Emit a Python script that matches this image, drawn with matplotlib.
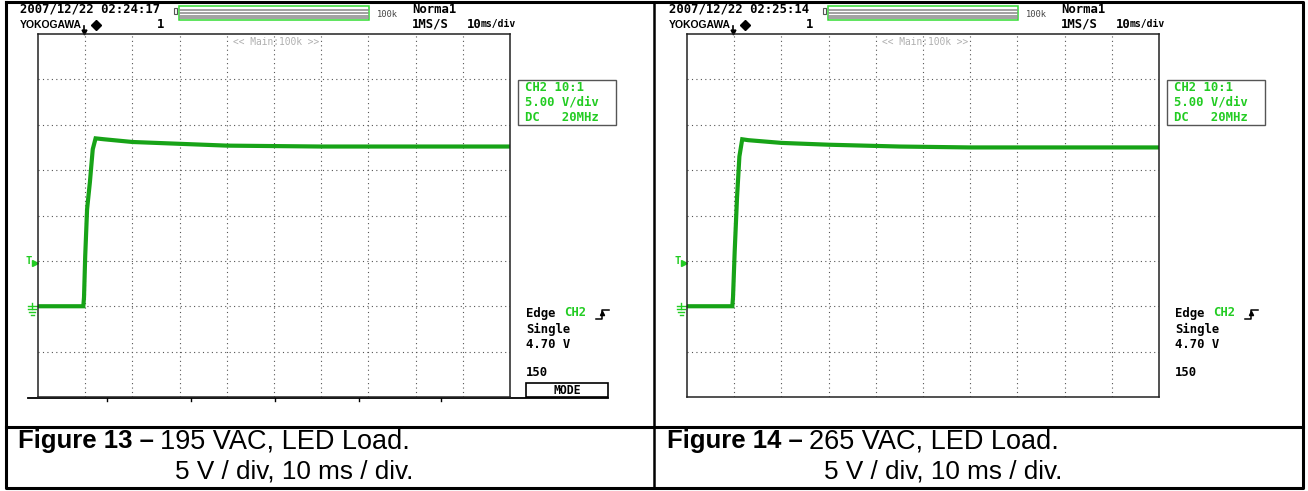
import numpy as np
import matplotlib
matplotlib.use("Agg")
import matplotlib.pyplot as plt
from matplotlib.patches import Rectangle

# CH2 output voltage at start-up (ms, V), 10 ms/div, 5 V/div
t_195 = [0, 9.6, 9.75, 10.0, 10.4, 11.0, 11.6, 12.2, 14, 20, 30, 40, 60, 80, 100]
v_195 = [0, 0, 1.0, 5.5, 10.7, 13.7, 17.3, 18.5, 18.4, 18.1, 17.9, 17.7, 17.6, 17.6, 17.6]
t_265 = [0, 9.6, 9.75, 10.1, 10.6, 11.1, 11.7, 13, 20, 30, 45, 60, 80, 100]
v_265 = [0, 0, 1.0, 6.0, 12.0, 16.5, 18.4, 18.3, 18.0, 17.8, 17.6, 17.5, 17.5, 17.5]

stamps = ["2007/12/22 02:24:17", "2007/12/22 02:25:14"]
fig_nums = ["Figure 13 \u2013", "Figure 14 \u2013"]
conditions = ["195 VAC, LED Load.", "265 VAC, LED Load."]
scale_text = "5 V / div, 10 ms / div."
ch_info = ["CH2 10:1", "5.00 V/div", "DC   20MHz"]
trig_level = "4.70 V"

TRACE = "#17a317"
GREEN = "#22cc22"
MONO = "DejaVu Sans Mono"
W, H = 1308, 491

fig = plt.figure(figsize=(W / 100, H / 100), dpi=100)
page = fig.add_axes([0, 0, 1, 1])
page.set_xlim(0, W)
page.set_ylim(H, 0)
page.axis("off")


def box_axes(left, top, right, bottom):
    return fig.add_axes([left / W, 1 - bottom / H, (right - left) / W, (bottom - top) / H])


def draw_scope(ax, t, v):
    ax.plot(t, v, color=TRACE, lw=3, solid_joinstyle="miter")
    ax.set_xlim(0, 100)
    ax.set_ylim(-10, 30)
    ax.set_xticks(np.arange(10, 100, 10))
    ax.set_yticks(np.arange(-5, 30, 5))
    ax.grid(True, ls=(0, (1, 3)), color="#555555", lw=0.8)
    ax.tick_params(length=0, labelbottom=False, labelleft=False)
    for s in ax.spines.values():
        s.set_color("#222222")
        s.set_linewidth(1.1)
    ax.patch.set_alpha(0)


def draw_panel(x0, t, v, stamp, fig_num, cond, show_mode):
    # x0 is left edge of the graticule
    ax = box_axes(x0, 34, x0 + 472, 397)
    draw_scope(ax, t, v)

    # header
    hx = x0 - 18
    page.text(hx, 9, stamp, family=MONO, weight="bold", size=8.8, va="center")
    page.text(hx, 25, "YOKOGAWA", family="Liberation Sans", weight="bold", size=7.5, va="center")
    page.plot([hx + 76], [25], marker="D", color="black", ms=5.5)
    page.text(hx + 137, 24, "1", family=MONO, weight="bold", size=8.8, va="center")
    page.plot([x0 + 46, x0 + 46], [26, 33], color="black", lw=1.2)
    page.plot([x0 + 46], [32], marker="v", color="black", ms=3.5)

    # record length bar
    page.add_patch(Rectangle((hx + 154, 8), 3, 6, fill=False, ec="#555555", lw=0.8))
    page.add_patch(Rectangle((hx + 159, 6), 190, 14, fill=False, ec="#33dd33", lw=1.1))
    for yy in (10, 13, 16, 18):
        page.plot([hx + 160, hx + 348], [yy, yy], color="#888888", lw=1.1)
    page.text(hx + 357, 14, "100k", family=MONO, size=6.3, color="#444444", va="center")
    page.text(hx + 392, 9, "Norma1", family=MONO, weight="bold", size=8.8, va="center")
    page.text(hx + 392, 24, "1MS/S", family=MONO, weight="bold", size=8.8, va="center")
    page.text(hx + 447, 24, "10", family=MONO, weight="bold", size=8.8, va="center")
    page.text(hx + 461, 24, "ms/div", family=MONO, weight="bold", size=7, va="center")
    page.text(x0 + 195, 42, "<< Main:100k >>", family=MONO, size=6.9, color="#b0b0b0", va="center")

    # channel settings box
    bx = x0 + 480
    page.add_patch(Rectangle((bx, 80), 98, 45, fill=False, ec="#555555", lw=1.0))
    for i, line in enumerate(ch_info):
        page.text(bx + 7, 87 + 15 * i, line, family=MONO, weight="bold", size=8.8,
                  color=GREEN, va="center")

    # trigger settings
    tx = x0 + 488
    page.text(tx, 313, "Edge", family=MONO, weight="bold", size=8.8, va="center")
    page.text(tx + 38, 313, "CH2", family=MONO, weight="bold", size=8.8, color=GREEN, va="center")
    sx = tx + 70
    page.plot([sx, sx + 6, sx + 6, sx + 13], [319, 319, 310, 310], color="black", lw=1.1)
    page.plot([sx + 6], [313], marker="^", color="black", ms=3)
    page.text(tx, 329, "Single", family=MONO, weight="bold", size=8.8, va="center")
    page.text(tx, 344, trig_level, family=MONO, weight="bold", size=8.8, va="center")
    page.text(tx, 373, "150", family=MONO, weight="bold", size=8.8, va="center")
    if show_mode:
        page.add_patch(Rectangle((tx, 383), 82, 14, fill=False, ec="black", lw=1.2))
        page.text(tx + 41, 390, "MODE", family=MONO, weight="bold", size=8.3,
                  ha="center", va="center")
        page.plot([x0 - 10, tx + 82], [398, 398], color="black", lw=1.3)
        for xx in (107, 191, 275, 359, 441):
            page.plot([xx, xx], [398, 401], color="black", lw=1)

    # level and ground markers
    page.text(x0 - 9, 261, "T", family=MONO, weight="bold", size=7.5, color=GREEN,
              ha="center", va="center")
    page.plot([x0 - 3], [263], marker=">", color=GREEN, ms=4)
    gx = x0 - 6
    page.plot([gx, gx], [303, 309], color=GREEN, lw=1)
    page.plot([gx - 4, gx + 4], [309, 309], color=GREEN, lw=1)
    page.plot([gx - 3, gx + 3], [312, 312], color=GREEN, lw=1)
    page.plot([gx - 1.5, gx + 1.5], [315, 315], color=GREEN, lw=1)
    page.plot([gx - 4, x0], [306, 306], color=GREEN, lw=1)

    # caption
    cx = x0 - 20
    page.text(cx, 441, fig_num, family="Liberation Sans", weight="bold", size=18.5, va="center")
    page.text(cx + 142, 441, cond, family="Liberation Sans", size=19.5, va="center")
    page.text(cx + 157, 471, scale_text, family="Liberation Sans", size=18.8, va="center")


draw_panel(38, t_195, v_195, stamps[0], fig_nums[0], conditions[0], True)
draw_panel(687, t_265, v_265, stamps[1], fig_nums[1], conditions[1], False)

# table frame
page.plot([6, 1303, 1303, 6, 6], [2, 2, 488, 488, 2], color="black", lw=2.2)
page.plot([654, 654], [2, 488], color="black", lw=1.8)
page.plot([6, 1303], [427, 427], color="black", lw=2.2)

fig.savefig("out.png", dpi=100)
